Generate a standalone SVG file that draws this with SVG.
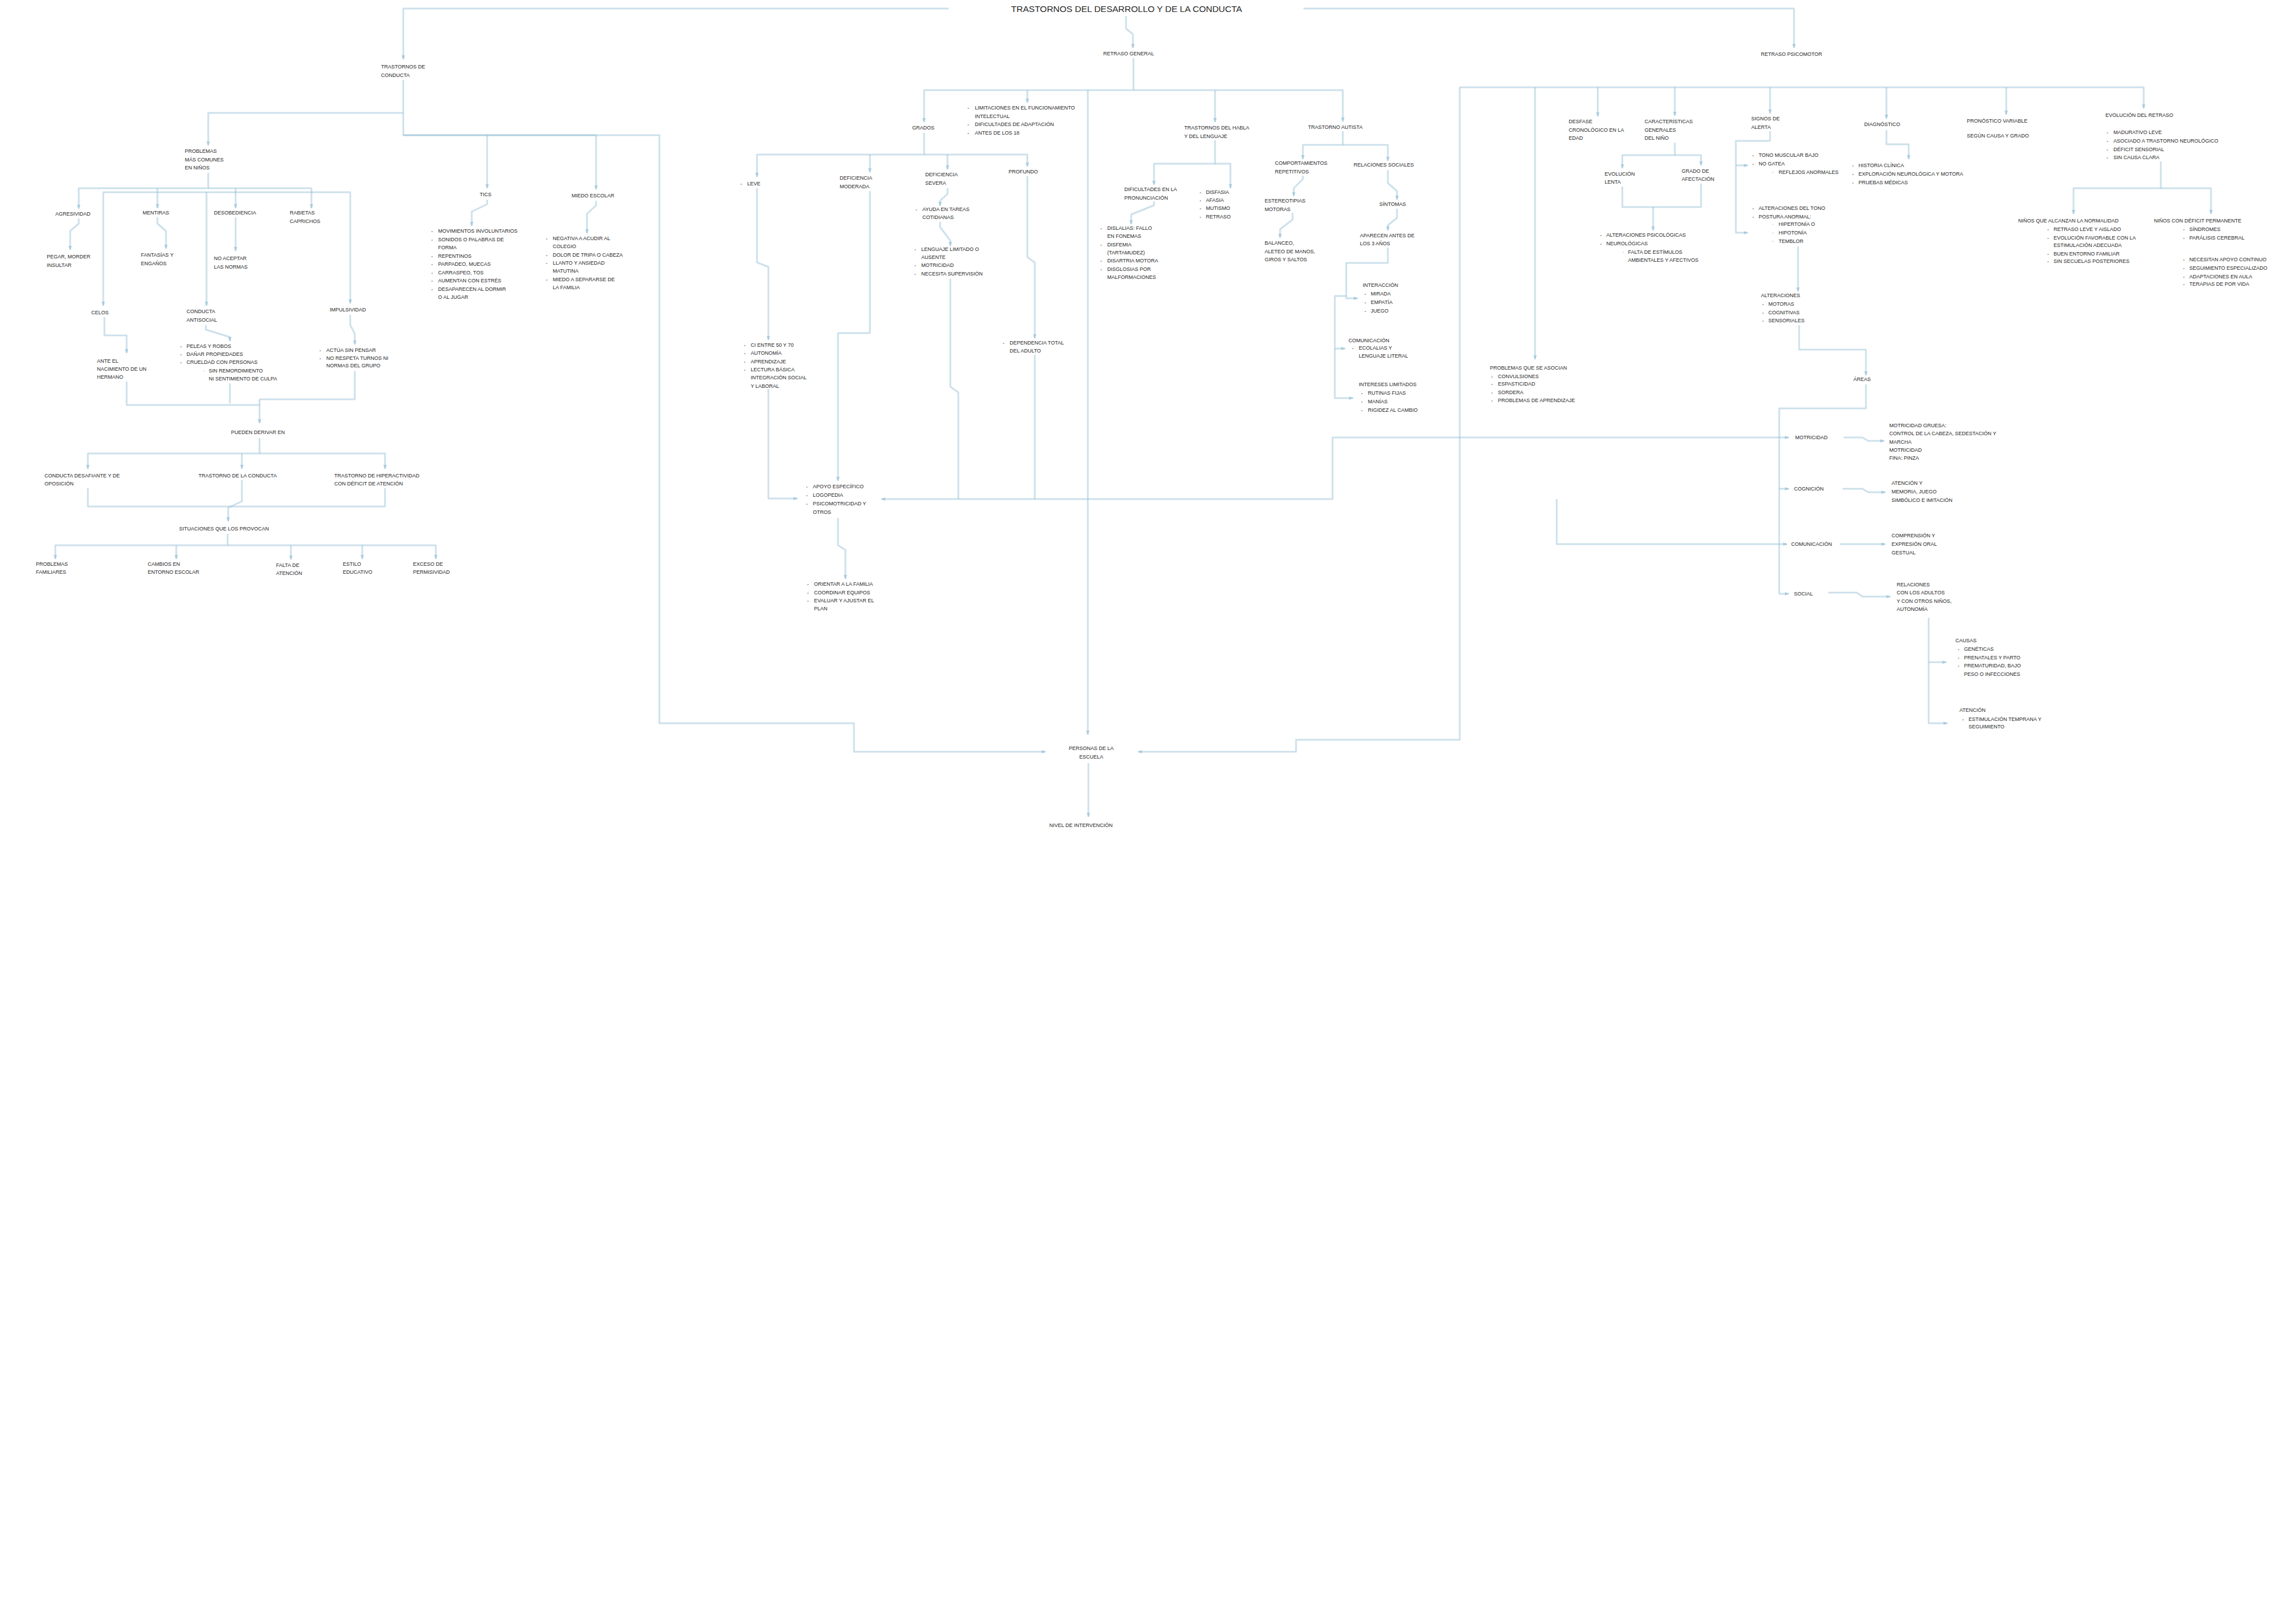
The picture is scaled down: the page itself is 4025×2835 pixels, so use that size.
<svg xmlns="http://www.w3.org/2000/svg" width="4025" height="2835" viewBox="0 0 4025 2835">
<defs>
<style>
.t{font-family:"Liberation Sans",Arial,sans-serif;font-size:9px;fill:#262626}
.h{font-family:"Liberation Sans",Arial,sans-serif;font-size:15.5px;fill:#262626}
.b{font-family:"Liberation Sans",Arial,sans-serif;font-size:8px;fill:#a0a0a0}
.c path{fill:none;stroke:#8dbad3;stroke-opacity:.45;stroke-width:3;stroke-linejoin:round}
.c path.a{marker-end:url(#ar)}
</style>
<marker id="ar" viewBox="0 0 10 10" refX="9" refY="5" markerWidth="8" markerHeight="8" markerUnits="userSpaceOnUse" orient="auto"><path d="M0,1 L10,5 L0,9 z" fill="#8dbad3" fill-opacity=".6"/></marker>
</defs>
<rect width="4025" height="2835" fill="#ffffff"/>
<g class="c" id="connectors">
<path class="a" d="M1663,15 H707 V104"/>
<path class="a" d="M2285,15 H3145 V84"/>
<path class="a" d="M1974,28 V50 L1986,60 V84"/>
<path class="a" d="M707,140 V237 H1156 V1268 H1497 V1318 H1833"/>
<path class="a" d="M707,237 H854 V330"/>
<path class="a" d="M854,237 H1045 V332"/>
<path class="a" d="M707,198 H365 V255"/>
<path class="a" d="M854,350 V358 L827,371 V396"/>
<path class="a" d="M1045,352 V360 L1029,375 V409"/>
<path class="a" d="M365,303 V330 H138 V366"/>
<path class="a" d="M365,330 H546 V365"/>
<path class="a" d="M276,330 V365"/>
<path class="a" d="M413,330 V365"/>
<path class="a" d="M365,337 H181 V536"/>
<path class="a" d="M365,337 H614 V532"/>
<path class="a" d="M362,337 V536"/>
<path class="a" d="M138,383 V392 L123,405 V438"/>
<path class="a" d="M276,381 V392 L291,405 V436"/>
<path class="a" d="M413,381 V440"/>
<path class="a" d="M183,556 V588 H222 V619"/>
<path class="a" d="M361,570 V578 L403,591 V598"/>
<path class="a" d="M614,552 V570 L622,585 V604"/>
<path d="M222,669 V710 H455"/>
<path d="M403,672 V707"/>
<path d="M622,650 V700 H455"/>
<path class="a" d="M455,700 V742"/>
<path class="a" d="M455,768 V795 H154 V822"/>
<path class="a" d="M455,795 H675 V822"/>
<path class="a" d="M424,795 V822"/>
<path d="M154,856 V888 H675 V856"/>
<path class="a" d="M424,842 V879 L400,890 V914"/>
<path class="a" d="M399,936 V956 H97 V980"/>
<path class="a" d="M399,956 H764 V980"/>
<path class="a" d="M309,956 V980"/>
<path class="a" d="M510,956 V981"/>
<path class="a" d="M635,956 V980"/>
<path class="a" d="M1987,102 V158 H1620 V214"/>
<path class="a" d="M1987,158 H2354 V213"/>
<path class="a" d="M2130,158 V214"/>
<path class="a" d="M1801,158 V180"/>
<path class="a" d="M1907,158 V1288"/>
<path class="a" d="M1620,233 V271 H1327 V310"/>
<path class="a" d="M1620,271 H1801 V292"/>
<path class="a" d="M1525,271 V302"/>
<path class="a" d="M1661,271 V297"/>
<path class="a" d="M1327,330 V460 L1347,468 V596"/>
<path class="a" d="M1347,682 V874 H1398"/>
<path class="a" d="M1525,335 V584 H1469 V843"/>
<path class="a" d="M1661,330 V340 L1648,352 V361"/>
<path class="a" d="M1648,389 V398 L1666,422 V431"/>
<path d="M1666,489 V678 L1680,688 V875"/>
<path class="a" d="M1801,309 V451 L1814,460 V593"/>
<path d="M1814,622 V875"/>
<path class="a" d="M3119,767 H2336 V875 H1545"/>
<path d="M3119,954 H2729 V875"/>
<path class="a" d="M1469,908 V956 L1482,964 V1015"/>
<path class="a" d="M2130,246 V287 H2023 V324"/>
<path class="a" d="M2130,287 H2157 V330"/>
<path class="a" d="M2023,353 V360 L1983,376 V393"/>
<path class="a" d="M2354,230 V254 H2284 V279"/>
<path class="a" d="M2354,254 H2433 V282"/>
<path class="a" d="M2284,308 V314 L2268,330 V344"/>
<path class="a" d="M2266,373 V385 L2244,402 V417"/>
<path class="a" d="M2433,298 V321 L2449,335 V350"/>
<path class="a" d="M2449,366 V382 L2433,395 V404"/>
<path class="a" d="M2433,434 V461 H2360 V523 H2380"/>
<path class="a" d="M2360,519 H2340 V611 H2358"/>
<path class="a" d="M2340,611 V698 H2372"/>
<path class="a" d="M1908,1338 V1432"/>
<path class="a" d="M2559,153 H3758 V190"/>
<path class="a" d="M2559,153 V1297 H2272 V1318 H1995"/>
<path class="a" d="M2691,153 V630"/>
<path class="a" d="M2801,153 V204"/>
<path class="a" d="M2936,153 V203"/>
<path class="a" d="M3103,153 V199"/>
<path class="a" d="M3307,153 V208"/>
<path class="a" d="M3517,153 V201"/>
<path class="a" d="M2936,250 V272 H2844 V295"/>
<path class="a" d="M2936,272 H2982 V290"/>
<path d="M2844,327 V363 H2982 V322"/>
<path class="a" d="M2898,363 V404"/>
<path class="a" d="M3103,230 V247 H3043 V408 H3064"/>
<path class="a" d="M3043,290 H3064"/>
<path class="a" d="M3152,432 V511"/>
<path class="a" d="M3154,570 V613 H3271 V658"/>
<path class="a" d="M3271,674 V716 H3119 V1041 H3136"/>
<path class="a" d="M3119,767 H3136"/>
<path class="a" d="M3119,857 H3136"/>
<path class="a" d="M3119,954 H3133"/>
<path class="a" d="M3232,767 H3265 L3275,773 H3303"/>
<path class="a" d="M3230,857 H3265 L3275,863 H3305"/>
<path class="a" d="M3225,954 H3305"/>
<path class="a" d="M3205,1039 H3255 L3265,1046 H3314"/>
<path class="a" d="M3381,1083 V1268 H3414"/>
<path class="a" d="M3381,1161 H3412"/>
<path class="a" d="M3307,228 V253 H3346 V279"/>
<path class="a" d="M3788,283 V330 H3635 V375"/>
<path class="a" d="M3788,330 H3876 V375"/>
</g>

<g id="title"><text class="h" x="1975" y="21" text-anchor="middle">TRASTORNOS DEL DESARROLLO Y DE LA CONDUCTA</text></g>

<g id="n-tc"><text class="t"><tspan x="668" y="120">TRASTORNOS DE</tspan><tspan x="668" y="134.5">CONDUCTA</tspan></text></g>
<g id="n-prob"><text class="t"><tspan x="324" y="268">PROBLEMAS</tspan><tspan x="324" y="282.5">MÁS COMUNES</tspan><tspan x="324" y="297">EN NIÑOS</tspan></text></g>
<g id="n-agr"><text class="t" x="97" y="378">AGRESIVIDAD</text></g>
<g id="n-men"><text class="t" x="250" y="376">MENTIRAS</text></g>
<g id="n-des"><text class="t" x="375" y="376">DESOBEDIENCIA</text></g>
<g id="n-rab"><text class="t"><tspan x="508" y="376">RABIETAS</tspan><tspan x="508" y="390.5">CAPRICHOS</tspan></text></g>
<g id="n-agr2"><text class="t"><tspan x="82" y="453">PEGAR, MORDER</tspan><tspan x="82" y="467.5">INSULTAR</tspan></text></g>
<g id="n-men2"><text class="t"><tspan x="247" y="450">FANTASÍAS Y</tspan><tspan x="247" y="464.5">ENGAÑOS</tspan></text></g>
<g id="n-des2"><text class="t"><tspan x="375" y="456">NO ACEPTAR</tspan><tspan x="375" y="470.5">LAS NORMAS</tspan></text></g>
<g id="n-cel"><text class="t" x="160" y="551">CELOS</text></g>
<g id="n-ant"><text class="t"><tspan x="327" y="549">CONDUCTA</tspan><tspan x="327" y="563.5">ANTISOCIAL</tspan></text></g>
<g id="n-imp"><text class="t" x="578" y="546">IMPULSIVIDAD</text></g>
<g id="n-cel2"><text class="t"><tspan x="170" y="636">ANTE EL</tspan><tspan x="170" y="650">NACIMIENTO DE UN</tspan><tspan x="170" y="664">HERMANO</tspan></text></g>
<g id="n-ant2"><text class="b"><tspan x="316" y="610">•</tspan><tspan x="316" y="624">•</tspan><tspan x="316" y="638">•</tspan><tspan x="356" y="653">◦</tspan></text>
<text class="t"><tspan x="327" y="610">PELEAS Y ROBOS</tspan><tspan x="327" y="624">DAÑAR PROPIEDADES</tspan><tspan x="327" y="638">CRUELDAD CON PERSONAS</tspan><tspan x="366" y="653">SIN REMORDIMIENTO</tspan><tspan x="366" y="667">NI SENTIMIENTO DE CULPA</tspan></text></g>
<g id="n-imp2"><text class="b"><tspan x="560" y="617">•</tspan><tspan x="560" y="630.5">•</tspan></text>
<text class="t"><tspan x="572" y="617">ACTÚA SIN PENSAR</tspan><tspan x="572" y="630.5">NO RESPETA TURNOS NI</tspan><tspan x="572" y="644">NORMAS DEL GRUPO</tspan></text></g>
<g id="n-der"><text class="t" x="405" y="761">PUEDEN DERIVAR EN</text></g>
<g id="n-tnd"><text class="t"><tspan x="78" y="837">CONDUCTA DESAFIANTE Y DE</tspan><tspan x="78" y="851">OPOSICIÓN</tspan></text></g>
<g id="n-tc2"><text class="t" x="348" y="837">TRASTORNO DE LA CONDUCTA</text></g>
<g id="n-tdah"><text class="t"><tspan x="586" y="837">TRASTORNO DE HIPERACTIVIDAD</tspan><tspan x="586" y="851">CON DÉFICIT DE ATENCIÓN</tspan></text></g>
<g id="n-sit"><text class="t" x="314" y="930">SITUACIONES QUE LOS PROVOCAN</text></g>
<g id="n-s1"><text class="t"><tspan x="63" y="992">PROBLEMAS</tspan><tspan x="63" y="1006">FAMILIARES</tspan></text></g>
<g id="n-s2"><text class="t"><tspan x="259" y="992">CAMBIOS EN</tspan><tspan x="259" y="1006">ENTORNO ESCOLAR</tspan></text></g>
<g id="n-s3"><text class="t"><tspan x="484" y="994">FALTA DE</tspan><tspan x="484" y="1008">ATENCIÓN</tspan></text></g>
<g id="n-s4"><text class="t"><tspan x="601" y="992">ESTILO</tspan><tspan x="601" y="1006">EDUCATIVO</tspan></text></g>
<g id="n-s5"><text class="t"><tspan x="724" y="992">EXCESO DE</tspan><tspan x="724" y="1006">PERMISIVIDAD</tspan></text></g>
<g id="n-tics"><text class="t" x="841" y="344">TICS</text></g>
<g id="n-tics2"><text class="b"><tspan x="756" y="408">•</tspan><tspan x="756" y="422.5">•</tspan><tspan x="756" y="451.5">•</tspan><tspan x="756" y="466">•</tspan><tspan x="756" y="480.5">•</tspan><tspan x="756" y="495">•</tspan><tspan x="756" y="509.5">•</tspan></text>
<text class="t"><tspan x="768" y="408">MOVIMIENTOS INVOLUNTARIOS</tspan><tspan x="768" y="422.5">SONIDOS O PALABRAS DE</tspan><tspan x="768" y="437">FORMA</tspan><tspan x="768" y="451.5">REPENTINOS</tspan><tspan x="768" y="466">PARPADEO, MUECAS</tspan><tspan x="768" y="480.5">CARRASPEO, TOS</tspan><tspan x="768" y="495">AUMENTAN CON ESTRÉS</tspan><tspan x="768" y="509.5">DESAPARECEN AL DORMIR</tspan><tspan x="768" y="524">O AL JUGAR</tspan></text></g>
<g id="n-mie"><text class="t" x="1002" y="346">MIEDO ESCOLAR</text></g>
<g id="n-mie2"><text class="b"><tspan x="957" y="421">•</tspan><tspan x="957" y="449.6">•</tspan><tspan x="957" y="463.9">•</tspan><tspan x="957" y="492.5">•</tspan></text>
<text class="t"><tspan x="969" y="421">NEGATIVA A ACUDIR AL</tspan><tspan x="969" y="435.3">COLEGIO</tspan><tspan x="969" y="449.6">DOLOR DE TRIPA O CABEZA</tspan><tspan x="969" y="463.9">LLANTO Y ANSIEDAD</tspan><tspan x="969" y="478.2">MATUTINA</tspan><tspan x="969" y="492.5">MIEDO A SEPARARSE DE</tspan><tspan x="969" y="506.8">LA FAMILIA</tspan></text></g>

<g id="n-rg"><text class="t" x="1934" y="97">RETRASO GENERAL</text></g>
<g id="n-lim"><text class="b"><tspan x="1696" y="192">•</tspan><tspan x="1696" y="221">•</tspan><tspan x="1696" y="235.5">•</tspan></text>
<text class="t"><tspan x="1709" y="192">LIMITACIONES EN EL FUNCIONAMIENTO</tspan><tspan x="1709" y="206.5">INTELECTUAL</tspan><tspan x="1709" y="221">DIFICULTADES DE ADAPTACIÓN</tspan><tspan x="1709" y="235.5">ANTES DE LOS 18</tspan></text></g>
<g id="n-grad"><text class="t" x="1599" y="227">GRADOS</text></g>
<g id="n-leve"><text class="b" x="1298" y="325">•</text><text class="t" x="1310" y="325">LEVE</text></g>
<g id="n-mod"><text class="t"><tspan x="1472" y="315">DEFICIENCIA</tspan><tspan x="1472" y="329.5">MODERADA</tspan></text></g>
<g id="n-sev"><text class="t"><tspan x="1622" y="309">DEFICIENCIA</tspan><tspan x="1622" y="324">SEVERA</tspan></text></g>
<g id="n-pro"><text class="t" x="1768" y="304">PROFUNDO</text></g>
<g id="n-leve2"><text class="b"><tspan x="1304" y="608">•</tspan><tspan x="1304" y="622.3">•</tspan><tspan x="1304" y="636.6">•</tspan><tspan x="1304" y="650.9">•</tspan></text>
<text class="t"><tspan x="1316" y="608">CI ENTRE 50 Y 70</tspan><tspan x="1316" y="622.3">AUTONOMÍA</tspan><tspan x="1316" y="636.6">APRENDIZAJE</tspan><tspan x="1316" y="650.9">LECTURA BÁSICA</tspan><tspan x="1316" y="665.2">INTEGRACIÓN SOCIAL</tspan><tspan x="1316" y="679.5">Y LABORAL</tspan></text></g>
<g id="n-sev2"><text class="b" x="1605" y="370">•</text><text class="t"><tspan x="1617" y="370">AYUDA EN TAREAS</tspan><tspan x="1617" y="384">COTIDIANAS</tspan></text></g>
<g id="n-sev3"><text class="b"><tspan x="1603" y="440">•</tspan><tspan x="1603" y="468">•</tspan><tspan x="1603" y="483">•</tspan></text>
<text class="t"><tspan x="1615" y="440">LENGUAJE LIMITADO O</tspan><tspan x="1615" y="454">AUSENTE</tspan><tspan x="1615" y="468">MOTRICIDAD</tspan><tspan x="1615" y="483">NECESITA SUPERVISIÓN</tspan></text></g>
<g id="n-pro2"><text class="b" x="1758" y="604">•</text><text class="t"><tspan x="1770" y="604">DEPENDENCIA TOTAL</tspan><tspan x="1770" y="618">DEL ADULTO</tspan></text></g>
<g id="n-apo"><text class="b"><tspan x="1413" y="856">•</tspan><tspan x="1413" y="871">•</tspan><tspan x="1413" y="886">•</tspan></text>
<text class="t"><tspan x="1425" y="856">APOYO ESPECÍFICO</tspan><tspan x="1425" y="871">LOGOPEDIA</tspan><tspan x="1425" y="886">PSICOMOTRICIDAD Y</tspan><tspan x="1425" y="901">OTROS</tspan></text></g>
<g id="n-apo2"><text class="b"><tspan x="1415" y="1027">•</tspan><tspan x="1415" y="1042">•</tspan><tspan x="1415" y="1056">•</tspan></text>
<text class="t"><tspan x="1427" y="1027">ORIENTAR A LA FAMILIA</tspan><tspan x="1427" y="1042">COORDINAR EQUIPOS</tspan><tspan x="1427" y="1056">EVALUAR Y AJUSTAR EL</tspan><tspan x="1427" y="1070">PLAN</tspan></text></g>
<g id="n-habla"><text class="t"><tspan x="2076" y="227">TRASTORNOS DEL HABLA</tspan><tspan x="2076" y="241.5">Y DEL LENGUAJE</tspan></text></g>
<g id="n-tea"><text class="t" x="2293" y="226">TRASTORNO AUTISTA</text></g>
<g id="n-pron"><text class="t"><tspan x="1971" y="335">DIFICULTADES EN LA</tspan><tspan x="1971" y="349.5">PRONUNCIACIÓN</tspan></text></g>
<g id="n-leng"><text class="b"><tspan x="2103" y="340">•</tspan><tspan x="2103" y="354">•</tspan><tspan x="2103" y="368">•</tspan><tspan x="2103" y="383">•</tspan></text>
<text class="t"><tspan x="2114" y="340">DISFASIA</tspan><tspan x="2114" y="354">AFASIA</tspan><tspan x="2114" y="368">MUTISMO</tspan><tspan x="2114" y="383">RETRASO</tspan></text></g>
<g id="n-pron2"><text class="b"><tspan x="1929" y="403">•</tspan><tspan x="1929" y="431.6">•</tspan><tspan x="1929" y="460.2">•</tspan><tspan x="1929" y="474.5">•</tspan></text>
<text class="t"><tspan x="1941" y="403">DISLALIAS: FALLO</tspan><tspan x="1941" y="417.3">EN FONEMAS</tspan><tspan x="1941" y="431.6">DISFEMIA</tspan><tspan x="1941" y="445.9">(TARTAMUDEZ)</tspan><tspan x="1941" y="460.2">DISARTRIA MOTORA</tspan><tspan x="1941" y="474.5">DISGLOSIAS POR</tspan><tspan x="1941" y="488.8">MALFORMACIONES</tspan></text></g>
<g id="n-rep"><text class="t"><tspan x="2235" y="289">COMPORTAMIENTOS</tspan><tspan x="2235" y="303.5">REPETITIVOS</tspan></text></g>
<g id="n-soc"><text class="t" x="2373" y="292">RELACIONES SOCIALES</text></g>
<g id="n-est"><text class="t"><tspan x="2217" y="355">ESTEREOTIPIAS</tspan><tspan x="2217" y="369.5">MOTORAS</tspan></text></g>
<g id="n-bal"><text class="t"><tspan x="2217" y="429">BALANCEO,</tspan><tspan x="2217" y="443.5">ALETEO DE MANOS,</tspan><tspan x="2217" y="458">GIROS Y SALTOS</tspan></text></g>
<g id="n-sin"><text class="t" x="2418" y="361">SÍNTOMAS</text></g>
<g id="n-apa"><text class="t"><tspan x="2384" y="416">APARECEN ANTES DE</tspan><tspan x="2384" y="430">LOS 3 AÑOS</tspan></text></g>
<g id="n-int"><text class="t" x="2389" y="503">INTERACCIÓN</text><text class="b"><tspan x="2392" y="518">•</tspan><tspan x="2392" y="533">•</tspan><tspan x="2392" y="548">•</tspan></text>
<text class="t"><tspan x="2403" y="518">MIRADA</tspan><tspan x="2403" y="533">EMPATÍA</tspan><tspan x="2403" y="548">JUEGO</tspan></text></g>
<g id="n-com"><text class="t" x="2364" y="600">COMUNICACIÓN</text><text class="b" x="2370" y="613">•</text>
<text class="t"><tspan x="2382" y="613">ECOLALIAS Y</tspan><tspan x="2382" y="627">LENGUAJE LITERAL</tspan></text></g>
<g id="n-intr"><text class="t" x="2382" y="677">INTERESES LIMITADOS</text><text class="b"><tspan x="2386" y="692">•</tspan><tspan x="2386" y="707">•</tspan><tspan x="2386" y="722">•</tspan></text>
<text class="t"><tspan x="2398" y="692">RUTINAS FIJAS</tspan><tspan x="2398" y="707">MANÍAS</tspan><tspan x="2398" y="722">RIGIDEZ AL CAMBIO</tspan></text></g>
<g id="n-personas"><text class="t" text-anchor="middle"><tspan x="1913" y="1315">PERSONAS DE LA</tspan><tspan x="1913" y="1330">ESCUELA</tspan></text></g>
<g id="n-nivel"><text class="t" x="1895" y="1450" text-anchor="middle">NIVEL DE INTERVENCIÓN</text></g>

<g id="n-rp"><text class="t" x="3087" y="98">RETRASO PSICOMOTOR</text></g>
<g id="n-c1"><text class="t"><tspan x="2750" y="216">DESFASE</tspan><tspan x="2750" y="230.5">CRONOLÓGICO EN LA</tspan><tspan x="2750" y="245">EDAD</tspan></text></g>
<g id="n-c2"><text class="t"><tspan x="2883" y="216">CARACTERÍSTICAS</tspan><tspan x="2883" y="230.5">GENERALES</tspan><tspan x="2883" y="245">DEL NIÑO</tspan></text></g>
<g id="n-evl"><text class="t"><tspan x="2813" y="308">EVOLUCIÓN</tspan><tspan x="2813" y="322">LENTA</tspan></text></g>
<g id="n-gra"><text class="t"><tspan x="2948" y="303">GRADO DE</tspan><tspan x="2948" y="317">AFECTACIÓN</tspan></text></g>
<g id="n-c2l"><text class="b"><tspan x="2805" y="415">•</tspan><tspan x="2805" y="430">•</tspan><tspan x="2844" y="445">◦</tspan></text>
<text class="t"><tspan x="2816" y="415">ALTERACIONES PSICOLÓGICAS</tspan><tspan x="2816" y="430">NEUROLÓGICAS</tspan><tspan x="2854" y="445">FALTA DE ESTÍMULOS</tspan><tspan x="2854" y="459">AMBIENTALES Y AFECTIVOS</tspan></text></g>
<g id="n-c3"><text class="t"><tspan x="3070" y="211">SIGNOS DE</tspan><tspan x="3070" y="225.5">ALERTA</tspan></text></g>
<g id="n-c3a"><text class="b"><tspan x="3072" y="275">•</tspan><tspan x="3072" y="290">•</tspan><tspan x="3106" y="305">◦</tspan></text>
<text class="t"><tspan x="3083" y="275">TONO MUSCULAR BAJO</tspan><tspan x="3083" y="290">NO GATEA</tspan><tspan x="3118" y="305">REFLEJOS ANORMALES</tspan></text></g>
<g id="n-c3b"><text class="b"><tspan x="3072" y="368">•</tspan><tspan x="3072" y="383">•</tspan><tspan x="3106" y="396">◦</tspan><tspan x="3106" y="411">◦</tspan><tspan x="3106" y="426">◦</tspan></text>
<text class="t"><tspan x="3083" y="368">ALTERACIONES DEL TONO</tspan><tspan x="3083" y="383">POSTURA ANORMAL:</tspan><tspan x="3118" y="396">HIPERTONÍA O</tspan><tspan x="3118" y="411">HIPOTONÍA</tspan><tspan x="3118" y="426">TEMBLOR</tspan></text></g>
<g id="n-alt"><text class="t" x="3087" y="521">ALTERACIONES</text><text class="b"><tspan x="3089" y="536">•</tspan><tspan x="3089" y="551">•</tspan><tspan x="3089" y="565">•</tspan></text>
<text class="t"><tspan x="3100" y="536">MOTORAS</tspan><tspan x="3100" y="551">COGNITIVAS</tspan><tspan x="3100" y="565">SENSORIALES</tspan></text></g>
<g id="n-areas"><text class="t" x="3249" y="668">ÁREAS</text></g>
<g id="n-mot"><text class="t" x="3147" y="770">MOTRICIDAD</text></g>
<g id="n-cog"><text class="t" x="3145" y="860">COGNICIÓN</text></g>
<g id="n-comu"><text class="t" x="3140" y="957">COMUNICACIÓN</text></g>
<g id="n-soc2"><text class="t" x="3145" y="1044">SOCIAL</text></g>
<g id="n-mot2"><text class="t"><tspan x="3312" y="749">MOTRICIDAD GRUESA:</tspan><tspan x="3312" y="763.3">CONTROL DE LA CABEZA, SEDESTACIÓN Y</tspan><tspan x="3312" y="777.6">MARCHA</tspan><tspan x="3312" y="791.9">MOTRICIDAD</tspan><tspan x="3312" y="806.2">FINA: PINZA</tspan></text></g>
<g id="n-cog2"><text class="t"><tspan x="3316" y="850">ATENCIÓN Y</tspan><tspan x="3316" y="865">MEMORIA, JUEGO</tspan><tspan x="3316" y="880">SIMBÓLICO E IMITACIÓN</tspan></text></g>
<g id="n-com2"><text class="t"><tspan x="3316" y="942">COMPRENSIÓN Y</tspan><tspan x="3316" y="957">EXPRESIÓN ORAL</tspan><tspan x="3316" y="972">GESTUAL</tspan></text></g>
<g id="n-soc3"><text class="t"><tspan x="3325" y="1028">RELACIONES</tspan><tspan x="3325" y="1042">CON LOS ADULTOS</tspan><tspan x="3325" y="1057">Y CON OTROS NIÑOS,</tspan><tspan x="3325" y="1071">AUTONOMÍA</tspan></text></g>
<g id="n-cau"><text class="t" x="3428" y="1126">CAUSAS</text><text class="b"><tspan x="3432" y="1141">•</tspan><tspan x="3432" y="1156">•</tspan><tspan x="3432" y="1170">•</tspan></text>
<text class="t"><tspan x="3443" y="1141">GENÉTICAS</tspan><tspan x="3443" y="1156">PRENATALES Y PARTO</tspan><tspan x="3443" y="1170">PREMATURIDAD, BAJO</tspan><tspan x="3443" y="1185">PESO O INFECCIONES</tspan></text></g>
<g id="n-ate"><text class="t" x="3435" y="1248">ATENCIÓN</text><text class="b" x="3440" y="1264">•</text>
<text class="t"><tspan x="3451" y="1264">ESTIMULACIÓN TEMPRANA Y</tspan><tspan x="3451" y="1277">SEGUIMIENTO</tspan></text></g>
<g id="n-diag"><text class="t" x="3268" y="221">DIAGNÓSTICO</text></g>
<g id="n-diag2"><text class="b"><tspan x="3247" y="293">•</tspan><tspan x="3247" y="308">•</tspan><tspan x="3247" y="323">•</tspan></text>
<text class="t"><tspan x="3258" y="293">HISTORIA CLÍNICA</tspan><tspan x="3258" y="308">EXPLORACIÓN NEUROLÓGICA Y MOTORA</tspan><tspan x="3258" y="323">PRUEBAS MÉDICAS</tspan></text></g>
<g id="n-pronos"><text class="t"><tspan x="3448" y="215">PRONÓSTICO VARIABLE</tspan><tspan x="3448" y="241">SEGÚN CAUSA Y GRADO</tspan></text></g>
<g id="n-evo"><text class="t" x="3691" y="205">EVOLUCIÓN DEL RETRASO</text><text class="b"><tspan x="3693" y="235">•</tspan><tspan x="3693" y="250">•</tspan><tspan x="3693" y="265">•</tspan><tspan x="3693" y="279">•</tspan></text>
<text class="t"><tspan x="3705" y="235">MADURATIVO LEVE</tspan><tspan x="3705" y="250">ASOCIADO A TRASTORNO NEUROLÓGICO</tspan><tspan x="3705" y="265">DÉFICIT SENSORIAL</tspan><tspan x="3705" y="279">SIN CAUSA CLARA</tspan></text></g>
<g id="n-norm"><text class="t" x="3538" y="390">NIÑOS QUE ALCANZAN LA NORMALIDAD</text><text class="b"><tspan x="3589" y="405">•</tspan><tspan x="3589" y="420">•</tspan><tspan x="3589" y="448">•</tspan><tspan x="3589" y="461">•</tspan></text>
<text class="t"><tspan x="3600" y="405">RETRASO LEVE Y AISLADO</tspan><tspan x="3600" y="420">EVOLUCIÓN FAVORABLE CON LA</tspan><tspan x="3600" y="433">ESTIMULACIÓN ADECUADA</tspan><tspan x="3600" y="448">BUEN ENTORNO FAMILIAR</tspan><tspan x="3600" y="461">SIN SECUELAS POSTERIORES</tspan></text></g>
<g id="n-perm"><text class="t" x="3776" y="390">NIÑOS CON DÉFICIT PERMANENTE</text><text class="b"><tspan x="3827" y="405">•</tspan><tspan x="3827" y="420">•</tspan><tspan x="3827" y="458">•</tspan><tspan x="3827" y="473">•</tspan><tspan x="3827" y="488">•</tspan><tspan x="3827" y="501">•</tspan></text>
<text class="t"><tspan x="3838" y="405">SÍNDROMES</tspan><tspan x="3838" y="420">PARÁLISIS CEREBRAL</tspan><tspan x="3838" y="458">NECESITAN APOYO CONTINUO</tspan><tspan x="3838" y="473">SEGUIMIENTO ESPECIALIZADO</tspan><tspan x="3838" y="488">ADAPTACIONES EN AULA</tspan><tspan x="3838" y="501">TERAPIAS DE POR VIDA</tspan></text></g>
<g id="n-asoc"><text class="t" x="2612" y="648">PROBLEMAS QUE SE ASOCIAN</text><text class="b"><tspan x="2614" y="663">•</tspan><tspan x="2614" y="676">•</tspan><tspan x="2614" y="691">•</tspan><tspan x="2614" y="705">•</tspan></text>
<text class="t"><tspan x="2626" y="663">CONVULSIONES</tspan><tspan x="2626" y="676">ESPASTICIDAD</tspan><tspan x="2626" y="691">SORDERA</tspan><tspan x="2626" y="705">PROBLEMAS DE APRENDIZAJE</tspan></text></g>
</svg>
